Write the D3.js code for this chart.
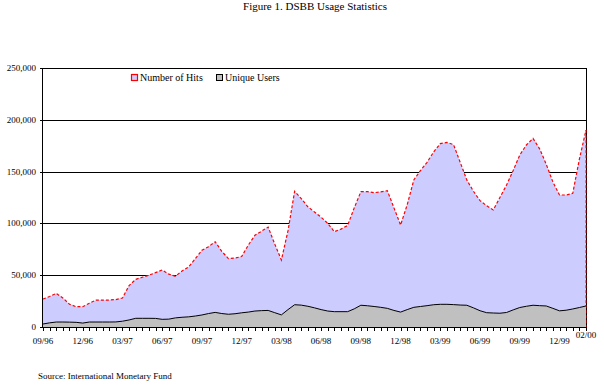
<html>
<head>
<title>DSBB Usage Statistics</title>
<style>
body { margin: 0; background: #fff; }
text { font-family: "Liberation Serif", "Times New Roman", serif; fill: #000; }
</style>
<script type="text/javascript" src="https://cdn.jsdelivr.net/npm/d3@7"></script>
</head>
<body>
<div id="chart_panel"></div>
<script type="text/javascript">

	// semi-monthly points, 09/96 .. 02/00 (values in hits / users)
	var hits = [27, 29.5, 32.5, 28, 22, 19.6, 19.6, 23, 26, 26, 26, 26.5, 28, 40, 46, 48, 50, 52.5, 55, 51,
		49, 54, 58, 66, 74, 77.5, 82.3, 73, 66, 66.5, 68, 79, 88.5, 92.5, 96.5, 80, 64.7, 93, 131, 124,
		116, 111, 106, 100, 92, 94.5, 98, 115, 130.6, 130.6, 129.6, 130.5, 131.6, 115, 98.5, 118, 142, 151, 159, 169,
		177, 178.2, 176, 159, 142, 131, 122, 117, 113, 125, 137, 151, 166, 175.7, 182, 172, 157, 140, 127.4, 127.4,
		129, 162, 190].map(function (v) { return v * 1000; });
	var users = [2.9, 4, 4.8, 4.8, 4.7, 4.5, 3.8, 4.8, 4.8, 4.8, 4.8, 4.9, 5.6, 6.8, 8.4, 8.4, 8.4, 8.3, 7.4, 7.6,
		8.8, 9.4, 9.8, 10.6, 11.6, 13, 14.1, 13, 12.3, 12.8, 13.7, 14.4, 15.4, 15.8, 16, 13.8, 11.7, 16.8, 21.5, 21.1,
		20, 18.5, 16.8, 15.4, 14.8, 14.8, 14.8, 17.5, 21, 20.5, 19.8, 19, 18, 16, 14.4, 16.8, 19, 19.8, 20.6, 21.5,
		21.9, 21.9, 21.6, 21.2, 21, 18.5, 15.7, 13.8, 13.5, 13.3, 14, 16.5, 18.8, 20, 21, 20.6, 20.3, 18, 15.6, 16.2,
		17.4, 18.8, 20.3].map(function (v) { return v * 1000; });

	var tickLabels = ["09/96", "12/96", "03/97", "06/97", "09/97", "12/97", "03/98", "06/98",
		"09/98", "12/98", "03/99", "06/99", "09/99", "12/99", "02/00"];
	var tickIndex = [0, 6, 12, 18, 24, 30, 36, 42, 48, 54, 60, 66, 72, 78, 82];
	var yTicks = [0, 50000, 100000, 150000, 200000, 250000];
	var seriesNames = ["Number of Hits", "Unique Users"];

	var categories = [];
	for (var m = 0; m < 42; m++) {
		var mon = (8 + m) % 12 + 1, yr = 96 + Math.floor((8 + m) / 12);
		categories.push(mon + "/" + yr + " a");
		if (m < 41) categories.push(mon + "/" + yr + " b");
	}

	var width = 604, height = 385;
	var plotLeft = 43, plotRight = 586, plotTop = 68, plotBottom = 327;

	var svg = d3.select("#chart_panel").append("svg")
		.attr("width", width)
		.attr("height", height);

	var x = d3.scalePoint().domain(categories).range([plotLeft, plotRight]);
	var y = d3.scaleLinear().domain([0, 250000]).range([plotBottom, plotTop]);

	svg.append("text")
		.attr("x", 315).attr("y", 10)
		.attr("text-anchor", "middle")
		.style("font-size", "11px")
		.text("Figure 1.  DSBB Usage Statistics");

	// gridlines
	svg.append("g").selectAll("line")
		.data(yTicks)
		.enter().append("line")
			.attr("x1", plotLeft - 3).attr("x2", plotRight)
			.attr("y1", function (d) { return Math.round(y(d)) + 0.5; })
			.attr("y2", function (d) { return Math.round(y(d)) + 0.5; })
			.attr("stroke", "#000");

	svg.append("line")
		.attr("x1", plotRight + 0.5).attr("x2", plotRight + 0.5)
		.attr("y1", plotTop).attr("y2", plotBottom)
		.attr("stroke", "#000");

	var area = d3.area()
		.x(function (d, i) { return x(categories[i]); })
		.y0(y(0))
		.y1(function (d) { return y(d); });

	var line = d3.line()
		.x(function (d, i) { return x(categories[i]); })
		.y(function (d) { return y(d); });

	svg.append("path")
		.datum(hits)
		.attr("d", area)
		.attr("fill", "#ccccff");

	svg.append("path")
		.datum(hits)
		.attr("d", line)
		.attr("fill", "none")
		.attr("stroke", "#ff0000")
		.attr("stroke-width", 1.2)
		.attr("stroke-dasharray", "3,2");

	svg.append("line")
		.attr("x1", x(categories[82])).attr("x2", x(categories[82]))
		.attr("y1", y(hits[82])).attr("y2", y(0))
		.attr("stroke", "#ff0000")
		.attr("stroke-dasharray", "3,2");

	svg.append("path")
		.datum(users)
		.attr("d", area)
		.attr("fill", "#c0c0c0");

	svg.append("path")
		.datum(users)
		.attr("d", line)
		.attr("fill", "none")
		.attr("stroke", "#000")
		.attr("stroke-width", 1);

	// axes
	svg.append("line")
		.attr("x1", plotLeft - 0.5).attr("x2", plotLeft - 0.5)
		.attr("y1", plotTop).attr("y2", plotBottom)
		.attr("stroke", "#000");
	svg.append("line")
		.attr("x1", plotLeft).attr("x2", plotRight + 1)
		.attr("y1", plotBottom + 0.5).attr("y2", plotBottom + 0.5)
		.attr("stroke", "#000");

	svg.append("g").selectAll("line")
		.data(categories)
		.enter().append("line")
			.attr("x1", function (d) { return Math.round(x(d)) + 0.5; })
			.attr("x2", function (d) { return Math.round(x(d)) + 0.5; })
			.attr("y1", plotBottom).attr("y2", plotBottom + 4)
			.attr("stroke", "#000");

	svg.append("g").selectAll("text")
		.data(yTicks)
		.enter().append("text")
			.attr("x", 36)
			.attr("y", function (d) { return y(d) + 3; })
			.attr("text-anchor", "end")
			.style("font-size", "9px")
			.text(function (d) { return d3.format(",")(d); });

	svg.append("g").selectAll("text")
		.data(tickLabels)
		.enter().append("text")
			.attr("x", function (d, i) { return x(categories[tickIndex[i]]); })
			.attr("y", function (d, i) { return i == tickLabels.length - 1 ? 338 : 344; })
			.attr("text-anchor", "middle")
			.style("font-size", "9px")
			.text(function (d) { return d; });

	// legend
	var legend = svg.append("g");
	legend.append("rect")
		.attr("x", 131.5).attr("y", 74.5).attr("width", 6).attr("height", 6)
		.attr("fill", "#ccccff").attr("stroke", "#ff0000").attr("stroke-width", 1.2);
	legend.append("text")
		.attr("x", 140).attr("y", 81)
		.style("font-size", "10px")
		.text(seriesNames[0]);
	legend.append("rect")
		.attr("x", 216.5).attr("y", 74.5).attr("width", 6).attr("height", 6)
		.attr("fill", "#c0c0c0").attr("stroke", "#000");
	legend.append("text")
		.attr("x", 225).attr("y", 81)
		.style("font-size", "10px")
		.text(seriesNames[1]);

	svg.append("text")
		.attr("x", 38).attr("y", 379)
		.style("font-size", "9px")
		.text("Source:  International Monetary Fund");

</script>
</body>
</html>
